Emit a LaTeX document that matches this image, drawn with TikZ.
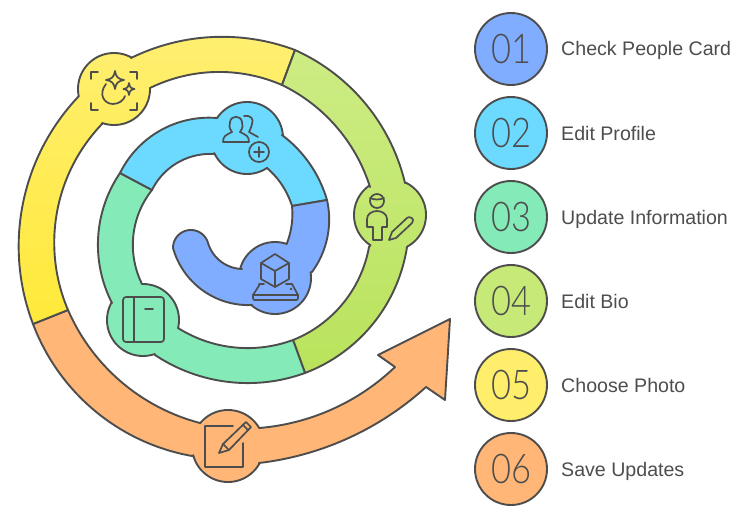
\documentclass[tikz,border=0pt]{standalone}
\usepackage{fontspec}
\usepackage{graphicx}
\setmainfont{Liberation Sans}
\newfontfamily\thinf[UprightFont=* Light]{Lato}
\definecolor{ink}{HTML}{4D4D4D}
\definecolor{cblue}{HTML}{80ADFF}
\definecolor{ccyan}{HTML}{6CD9FF}
\definecolor{cteal}{HTML}{84EBB8}
\definecolor{clime}{HTML}{C6E978}
\definecolor{climetop}{HTML}{CDEC84}
\definecolor{climebot}{HTML}{B9E35C}
\definecolor{cyel}{HTML}{FFEE6B}
\definecolor{cyeltop}{HTML}{FFEF70}
\definecolor{cyelbot}{HTML}{FFE93A}
\definecolor{corange}{HTML}{FFB676}
\newcommand{\dg}[1]{\scalebox{.84}[1]{#1}}
\tikzset{
  band/.style={draw=ink,line width=1.9pt,line join=round},
  icon/.style={draw=ink,line width=1.7pt,line join=round,line cap=round},
  bullet/.style={circle,draw=ink,line width=1.9pt,minimum size=72pt,inner sep=0pt,text=ink,font=\thinf\fontsize{41}{41}\selectfont},
  caption/.style={anchor=base west,text=ink,inner sep=0pt,font=\fontsize{19.6}{22}\selectfont}
}
\newcommand{\bulge}[4]{-- plot[domain=#3:#4,samples=40] ({#1+36*cos(\x)},{#2-36*sin(\x)})}
\newcommand{\ArcDef}[7]{%
  \pgfmathsetmacro\rkbx{(#4-#2)/100}\pgfmathsetmacro\rkby{(#5-#3)/100}%
  \pgfmathsetmacro\rkcx{(#6-#2)/100}\pgfmathsetmacro\rkcy{(#7-#3)/100}%
  \pgfmathsetmacro\rkd{2*(\rkbx*\rkcy-\rkby*\rkcx)}%
  \pgfmathsetmacro\rkbb{\rkbx*\rkbx+\rkby*\rkby}\pgfmathsetmacro\rkcc{\rkcx*\rkcx+\rkcy*\rkcy}%
  \pgfmathsetmacro\rkux{(\rkcy*\rkbb-\rkby*\rkcc)/\rkd}%
  \pgfmathsetmacro\rkuy{(\rkbx*\rkcc-\rkcx*\rkbb)/\rkd}%
  \pgfmathsetmacro\rkR{100*sqrt(\rkux*\rkux+\rkuy*\rkuy)}%
  \pgfmathsetmacro\rkUx{#2+100*\rkux}\pgfmathsetmacro\rkUy{#3+100*\rkuy}%
  \pgfmathsetmacro\rks{atan2(#3-\rkUy,#2-\rkUx)}%
  \pgfmathsetmacro\rke{atan2(#7-\rkUy,#6-\rkUx)}%
  \pgfmathsetmacro\rke{\rkd>0 ? (\rke<\rks ? \rke+360 : \rke) : (\rke>\rks ? \rke-360 : \rke)}%
  \expandafter\xdef\csname rk#1\endcsname{plot[domain=\rks:\rke,samples=50] ({\rkUx+\rkR*cos(\noexpand\x)},{\rkUy+\rkR*sin(\noexpand\x)})}%
  \expandafter\xdef\csname jn#1\endcsname{-- plot[domain=\rks:\rke,samples=50] ({\rkUx+\rkR*cos(\noexpand\x)},{\rkUy+\rkR*sin(\noexpand\x)})}%
}
\begin{document}
\begin{tikzpicture}[x=1pt,y=-1pt]
\useasboundingbox (0,0) rectangle (751,519);
% edges
\ArcDef{Oa}{33}{324}{100}{415}{192}{456}
\ArcDef{Ob}{259}{463}{337}{443}{426}{387}
\ArcDef{Oc}{395}{367}{337}{407}{259}{428}
\ArcDef{Od}{200}{423}{125}{385}{68}{310}
\ArcDef{Ya}{295}{50}{213}{37}{131}{58}
\ArcDef{Yb}{78}{97}{23}{203}{33}{324}
\ArcDef{Yc}{68}{310}{57}{212}{102}{124}
\ArcDef{Yd}{150}{88}{215}{72}{282}{85}
\ArcDef{La}{295}{50}{353}{90}{405}{183}
\ArcDef{Lb}{407}{247}{383}{310}{305}{373}
\ArcDef{Lc}{293}{340}{330}{317}{369}{247}
\ArcDef{Ld}{370}{187}{333}{123}{282}{85}
\ArcDef{Ta}{120}{173}{98}{240}{112}{303}
\ArcDef{Tb}{155}{355}{243}{383}{305}{373}
\ArcDef{Tc}{293}{340}{243}{348}{178}{328}
\ArcDef{Td}{142}{284}{133}{250}{152}{190}
\ArcDef{Ca}{327}{200}{307}{160}{282}{135}
\ArcDef{Cb}{217}{118}{167}{127}{120}{173}
\ArcDef{Cc}{152}{190}{177}{163}{213}{154}
\ArcDef{Cd}{267}{168}{282}{185}{292}{206}
\ArcDef{Ba}{327}{200}{329}{225}{312}{272}
\ArcDef{Bb}{252}{305}{205}{292}{173}{248}
\ArcDef{Bc}{173}{248}{190}{230}{208}{243}
\ArcDef{Bd}{208}{243}{223}{263}{242}{269}
\ArcDef{Be}{287}{243}{292}{222}{292}{206}
% orange
\path[band,fill=corange] \rkOa
  \bulge{228}{446}{195}{331}
  \jnOb
  -- (445,400) -- (450,319) -- (378,355) -- (395,367)
  \jnOc
  \bulge{228}{446}{30}{141}
  \jnOd -- cycle;
% yellow
\path[band,top color=cyeltop,bottom color=cyelbot] \rkYa
  \bulge{114}{89}{61}{192}
  \jnYb
  -- (68,310)
  \jnYc
  \bulge{114}{89}{251}{362}
  \jnYd -- cycle;
% lime
\path[band,top color=climetop,bottom color=climebot] \rkLa
  \bulge{390}{215}{65}{-62}
  \jnLb
  -- (293,340)
  \jnLc
  \bulge{390}{215}{237}{125}
  \jnLd -- cycle;
% teal
\path[band,fill=cteal] \rkTa
  \bulge{143}{320}{151}{289}
  \jnTb
  -- (293,340)
  \jnTc
  \bulge{143}{320}{-13}{92}
  \jnTd -- cycle;
% cyan
\path[band,fill=ccyan] \rkCa
  \bulge{247}{138}{5}{146}
  \jnCb
  -- (152,190)
  \jnCc
  \bulge{247}{138}{205}{304}
  \jnCd -- cycle;
% blue
\path[band,fill=cblue] \rkBa
  \bulge{275}{278}{9}{-130}
  \jnBb \jnBc \jnBd
  \bulge{275}{278}{165}{71}
  \jnBe -- cycle;
% icon: sparkle face
\draw[icon] (91,79) -- (91,72) -- (98,72) (130,72) -- (137,72) -- (137,79)
  (137,103) -- (137,110) -- (130,110) (98,110) -- (91,110) -- (91,103);
\draw[icon] (115,71) .. controls (116,77) and (118,79) .. (124,80) .. controls (118,81) and (116,83) .. (115,89) .. controls (114,83) and (112,81) .. (106,80) .. controls (112,79) and (114,77) .. (115,71) -- cycle;
\draw[icon] (129,83) .. controls (129.5,87) and (131,88.5) .. (134.5,89) .. controls (131,89.5) and (129.5,91) .. (129,95) .. controls (128.500,91) and (127,89.5) .. (123.5,89) .. controls (127,88.5) and (128.5,87) .. (129,83) -- cycle;
\draw[icon] (106,84) .. controls (98,94) and (104,104) .. (113,104) .. controls (119,104) and (124,100) .. (125,96);
% icon: people plus
\draw[icon] (223,142) .. controls (223,136) and (226,135) .. (232,132) .. controls (229,128) and (229,125) .. (230,122) .. controls (231,115) and (241,115) .. (242,122) .. controls (243,125) and (243,128) .. (240,132) .. controls (246,135) and (249,136) .. (249,142) -- cycle;
\draw[icon] (244,116) .. controls (251,115) and (254,119) .. (252,124) .. controls (251,128) and (250,130) .. (249,132) .. controls (252,134) and (255,135) .. (258,137);
\draw[icon] (259,152) circle[radius=10];
\draw[icon] (254,152) -- (264,152) (259,147) -- (259,157);
% icon: person pencil
\draw[icon] (377,201) circle[radius=7];
\draw[icon] (370,198) .. controls (374,200) and (380,200) .. (384,198);
\draw[icon] (373,240) -- (373,227) -- (367,227) -- (367,219) .. controls (367,214) and (372,211) .. (377,211) .. controls (382,211) and (387,214) .. (387,219) -- (387,227) -- (382,227) -- (382,240) -- cycle;
\draw[icon] (389,240) -- (392,232) -- (407,218) .. controls (409,216) and (413,218) .. (413,220) .. controls (413,222) and (412,223) .. (411,224) -- (396,238) -- cycle;
% icon: cube on tray
\draw[icon] (275,254) -- (289,263) -- (289,279) -- (275,287) -- (261,279) -- (261,263) -- cycle;
\draw[icon] (261,263) -- (275,271) -- (289,263) (275,271) -- (275,287);
\draw[icon] (259,284) -- (264,284) (286,284) -- (292,284);
\draw[icon] (260,284) -- (253,295) -- (253,298) .. controls (253,300) and (254,300) .. (255,300) -- (296,300) .. controls (297,300) and (298,300) .. (298,298) -- (298,295) -- (292,284);
\draw[icon] (253,295) -- (298,295);
\fill[ink] (291,289) circle[radius=1.3];
% icon: book
\draw[icon,rounded corners=3pt] (123,297) rectangle (164,342);
\draw[icon] (134,297) -- (134,342) (145,309) -- (153,309);
% icon: edit
\draw[icon] (233,426) -- (205,426) -- (205,467) -- (243,467) -- (243,443);
\draw[icon] (219,453) -- (223,444) -- (246,422) -- (251,427) -- (229,450) -- cycle;
\draw[icon] (223,444) -- (229,450) (243,425) -- (248,430);
% legend
\node[bullet,fill=cblue] (n1) at (511,49) {\dg{01}};
\node[bullet,fill=ccyan] (n2) at (511,133) {\dg{02}};
\node[bullet,fill=cteal] (n3) at (511,217) {\dg{03}};
\node[bullet,fill=clime] (n4) at (511,301) {\dg{04}};
\node[bullet,fill=cyel] (n5) at (511,385) {\dg{05}};
\node[bullet,fill=corange] (n6) at (511,469) {\dg{06}};
\node[caption] (t1) at (561,56) {Check People Card};
\node[caption] (t2) at (561,140) {Edit Profile};
\node[caption] (t3) at (561,224) {Update Information};
\node[caption] (t4) at (561,308) {Edit Bio};
\node[caption] (t5) at (561,392) {Choose Photo};
\node[caption] (t6) at (561,476) {Save Updates};
\end{tikzpicture}
\end{document}
